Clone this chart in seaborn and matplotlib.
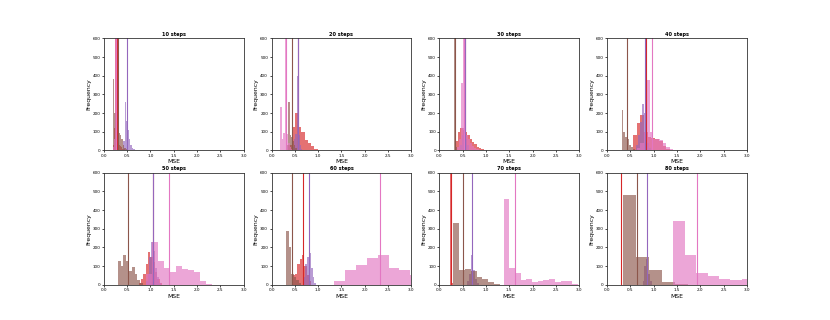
import numpy as np
import pandas as pd
import matplotlib
matplotlib.use("Agg")
from matplotlib import pyplot as plt
import seaborn as sns

steps = [10, 20, 30, 40, 50, 60, 70, 80]

# each series: first bin edge, bin width and counts per panel, plus the marked line
red_start = [0.20, 0.36, 0.35, 0.55, 0.75, 0.45, 0.235, 0.29]
red_width = [0.025, 0.07, 0.05, 0.08, 0.05, 0.05, 0.015, 0.015]
red_counts = [
    [30, 120, 700, 700, 60, 30, 25, 20, 10, 5],
    [30, 125, 200, 125, 100, 55, 40, 25, 10],
    [50, 100, 120, 110, 100, 80, 60, 45, 35, 20, 12, 5],
    [80, 145, 190, 100, 70, 65, 60, 50, 25, 10],
    [10, 30, 60, 110, 175, 150, 120, 70, 30, 10],
    [50, 60, 110, 140, 160, 100, 50, 20],
    [700, 30, 20, 10],
    [700],
]
red_line = [0.28, 0.56, 0.55, 0.84, 1.05, 0.67, 0.25, 0.30]

purple_start = [0.42, 0.45, 0.45, 0.62, 0.90, 0.68, 0.60, 0.76]
purple_width = [0.03, 0.03, 0.03, 0.04, 0.04, 0.04, 0.04, 0.04]
purple_counts = [
    [50, 260, 160, 110, 60, 30, 15, 10],
    [20, 60, 90, 400, 80, 30, 10],
    [30, 80, 120, 100, 60, 30],
    [30, 80, 150, 250, 200, 100, 40, 15],
    [20, 60, 150, 230, 180, 90, 40, 10],
    [40, 110, 150, 170, 90, 40, 10],
    [20, 60, 160, 80, 30, 10],
    [20, 100, 140, 60, 20],
]
purple_line = [0.49, 0.57, 0.54, 0.81, 1.06, 0.80, 0.69, 0.86]

brown_start = [0.20, 0.33, 0.31, 0.31, 0.30, 0.31, 0.30, 0.35]
brown_width = [0.03, 0.03, 0.025, 0.04, 0.06, 0.055, 0.125, 0.275]
brown_counts = [
    [380, 200, 50, 80, 95, 80, 60, 30, 15, 5],
    [30, 260, 80, 70, 50, 30, 15],
    [700, 40, 20],
    [215, 100, 70, 60, 30, 20, 10],
    [125, 100, 160, 130, 75, 95, 60, 25, 10],
    [290, 200, 60, 40, 25, 10],
    [330, 80, 85, 75, 40, 30, 15, 5],
    [480, 150, 80, 15, 5],
]
brown_line = [0.30, 0.44, 0.33, 0.43, 0.52, 0.43, 0.50, 0.64]

pink_start = [0.20, 0.18, 0.38, 0.64, 0.90, 1.35, 1.38, 1.42]
pink_width = [0.02, 0.035, 0.04, 0.07, 0.13, 0.232, 0.122, 0.245]
pink_counts = [
    [20, 60, 700, 40, 20, 10],
    [230, 60, 95, 700, 90, 40, 20, 10],
    [20, 60, 360, 700, 120, 80, 60, 40, 25, 15, 10, 5],
    [15, 40, 100, 376, 100, 60, 60, 55, 40, 20, 10],
    [60, 230, 130, 90, 70, 100, 85, 80, 70, 20, 5],
    [20, 78, 104, 144, 158, 92, 77, 50],
    [460, 90, 65, 25, 30, 15, 20, 25, 30, 15, 20, 20, 5],
    [340, 160, 65, 45, 30, 25, 30],
]
pink_line = [0.26, 0.30, 0.53, 0.97, 1.39, 2.33, 1.63, 1.92]

series = [
    ("tab:red", red_start, red_width, red_counts, red_line),
    ("tab:purple", purple_start, purple_width, purple_counts, purple_line),
    ("tab:brown", brown_start, brown_width, brown_counts, brown_line),
    ("tab:pink", pink_start, pink_width, pink_counts, pink_line),
]

fig, axes = plt.subplots(2, 4, figsize=(8.3, 3.2), dpi=100)

for i, ax in enumerate(axes.flat):
    for color, start, width, counts, line in series:
        c = np.array(counts[i], dtype=float)
        edges = start[i] + width[i] * np.arange(len(c) + 1)
        df = pd.DataFrame({"mse": (edges[:-1] + edges[1:]) / 2, "n": c})
        sns.histplot(data=df, x="mse", weights="n", bins=edges.tolist(),
                     color=color, alpha=0.65, linewidth=0, ax=ax)
        ax.axvline(line[i], color=color, linewidth=0.8)
    ax.set_xlim(0, 3)
    ax.set_ylim(0, 600)
    ax.set_xticks(np.arange(0, 3.01, 0.5))
    ax.set_yticks(np.arange(0, 601, 100))
    ax.tick_params(labelsize=3.0, length=1.5, width=0.5, pad=1)
    ax.set_title(f"{steps[i]} steps", fontsize=3.6, fontweight="bold", pad=2)
    ax.set_xlabel("MSE", fontsize=4.4, labelpad=1)
    ax.set_ylabel("Frequency", fontsize=4.4, labelpad=1)
    for s in ax.spines.values():
        s.set_linewidth(0.6)
        s.set_color("#333333")

plt.savefig("out.png", dpi=100)
